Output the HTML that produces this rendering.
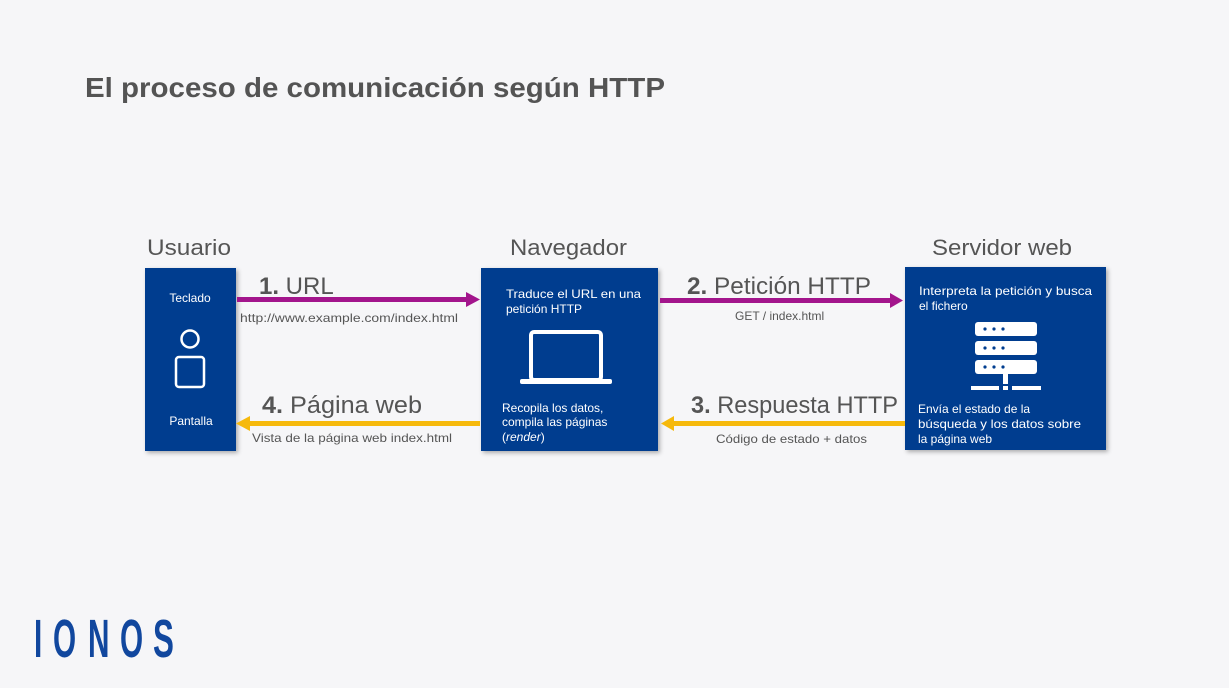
<!DOCTYPE html>
<html><head><meta charset="utf-8"><style>
html,body{margin:0;padding:0;background:#f6f6f8;}
svg{display:block}
text{font-family:"Liberation Sans",sans-serif;}
</style></head><body>
<svg width="1229" height="688" viewBox="0 0 1229 688" xmlns="http://www.w3.org/2000/svg">
<defs>
<filter id="sh" x="-10%" y="-10%" width="130%" height="130%"><feDropShadow dx="2" dy="2" stdDeviation="2" flood-color="#000" flood-opacity="0.3"/></filter>
</defs>
<rect width="1229" height="688" fill="#f6f6f8"/>
<text x="85" y="97" font-size="28" font-weight="bold" fill="#545454" textLength="580" lengthAdjust="spacingAndGlyphs">El proceso de comunicación según HTTP</text>

<text x="147" y="255" font-size="22" fill="#555" textLength="84" lengthAdjust="spacingAndGlyphs">Usuario</text>
<text x="510" y="255" font-size="22" fill="#555" textLength="117" lengthAdjust="spacingAndGlyphs">Navegador</text>
<text x="932" y="255" font-size="22" fill="#555" textLength="140" lengthAdjust="spacingAndGlyphs">Servidor web</text>

<rect x="145" y="268" width="91" height="183" fill="#003d8f" filter="url(#sh)"/>
<rect x="481" y="268" width="177" height="183" fill="#003d8f" filter="url(#sh)"/>
<rect x="905" y="267" width="201" height="183" fill="#003d8f" filter="url(#sh)"/>

<text x="190" y="302" font-size="12" fill="#fff" text-anchor="middle">Teclado</text>
<circle cx="190" cy="339" r="8.5" fill="none" stroke="#fff" stroke-width="2.5"/>
<rect x="176" y="357" width="28" height="30" rx="3" fill="none" stroke="#fff" stroke-width="2.5"/>
<text x="191" y="425" font-size="12" fill="#fff" text-anchor="middle">Pantalla</text>

<text x="506" y="298" font-size="12" fill="#fff" textLength="135" lengthAdjust="spacingAndGlyphs">Traduce el URL en una</text>
<text x="506" y="313" font-size="12" fill="#fff">petición HTTP</text>
<rect x="531" y="332" width="70" height="48" rx="3" fill="none" stroke="#fff" stroke-width="4"/>
<rect x="520" y="379" width="92" height="5" rx="2" fill="#fff"/>
<text x="502" y="412" font-size="12" fill="#fff">Recopila los datos,</text>
<text x="502" y="426" font-size="12" fill="#fff">compila las páginas</text>
<text x="502" y="441" font-size="12" fill="#fff">(<tspan font-style="italic">render</tspan>)</text>

<text x="919" y="295" font-size="12" fill="#fff" textLength="173" lengthAdjust="spacingAndGlyphs">Interpreta la petición y busca</text>
<text x="919" y="310" font-size="12" fill="#fff">el fichero</text>
<g fill="#fff">
<rect x="975" y="322" width="62" height="14" rx="3"/>
<rect x="975" y="341" width="62" height="14" rx="3"/>
<rect x="975" y="360" width="62" height="14" rx="3"/>
<rect x="1003" y="374" width="5" height="10"/>
<rect x="971" y="386" width="28" height="4"/>
<rect x="1003" y="386" width="5" height="4"/>
<rect x="1012" y="386" width="29" height="4"/>
</g>
<g fill="#003d8f">
<circle cx="985" cy="329" r="1.6"/><circle cx="994" cy="329" r="1.6"/><circle cx="1003" cy="329" r="1.6"/>
<circle cx="985" cy="348" r="1.6"/><circle cx="994" cy="348" r="1.6"/><circle cx="1003" cy="348" r="1.6"/>
<circle cx="985" cy="367" r="1.6"/><circle cx="994" cy="367" r="1.6"/><circle cx="1003" cy="367" r="1.6"/>
</g>
<text x="918" y="413" font-size="12" fill="#fff">Envía el estado de la</text>
<text x="918" y="428" font-size="12" fill="#fff" textLength="163" lengthAdjust="spacingAndGlyphs">búsqueda y los datos sobre</text>
<text x="918" y="443" font-size="12" fill="#fff">la página web</text>

<rect x="237" y="297" width="230" height="5" fill="#a3158c"/>
<polygon points="466,292 480,299.5 466,307" fill="#a3158c"/>
<rect x="660" y="298" width="232" height="5" fill="#a3158c"/>
<polygon points="890,293 903,300.5 890,308" fill="#a3158c"/>
<rect x="248" y="421" width="232" height="5" fill="#f6b90c"/>
<polygon points="250,416 236,423.5 250,431" fill="#f6b90c"/>
<rect x="672" y="421" width="233" height="5" fill="#f6b90c"/>
<polygon points="674,416 661,423.5 674,431" fill="#f6b90c"/>

<text x="259" y="294" font-size="24" fill="#555"><tspan font-weight="bold">1.</tspan> URL</text>
<text x="240" y="322" font-size="12" fill="#555" textLength="218" lengthAdjust="spacingAndGlyphs">http://www.example.com/index.html</text>
<text x="687" y="294" font-size="24" fill="#555" textLength="184" lengthAdjust="spacingAndGlyphs"><tspan font-weight="bold">2.</tspan> Petición HTTP</text>
<text x="735" y="320" font-size="12" fill="#555">GET / index.html</text>
<text x="262" y="413" font-size="24" fill="#555" textLength="160" lengthAdjust="spacingAndGlyphs"><tspan font-weight="bold">4.</tspan> Página web</text>
<text x="252" y="442" font-size="12" fill="#555" textLength="200" lengthAdjust="spacingAndGlyphs">Vista de la página web index.html</text>
<text x="691" y="413" font-size="24" fill="#555" textLength="207" lengthAdjust="spacingAndGlyphs"><tspan font-weight="bold">3.</tspan> Respuesta HTTP</text>
<text x="716" y="443" font-size="12" fill="#555" textLength="151" lengthAdjust="spacingAndGlyphs">Código de estado + datos</text>

<g fill="#11479e" font-size="54" font-weight="bold">
<text transform="translate(34,657) scale(0.55,1)">I</text>
<text transform="translate(53,657) scale(0.55,1)">O</text>
<text transform="translate(88,657) scale(0.55,1)">N</text>
<text transform="translate(120,657) scale(0.55,1)">O</text>
<text transform="translate(153,657) scale(0.58,1)">S</text>
</g>
</svg>
</body></html>
